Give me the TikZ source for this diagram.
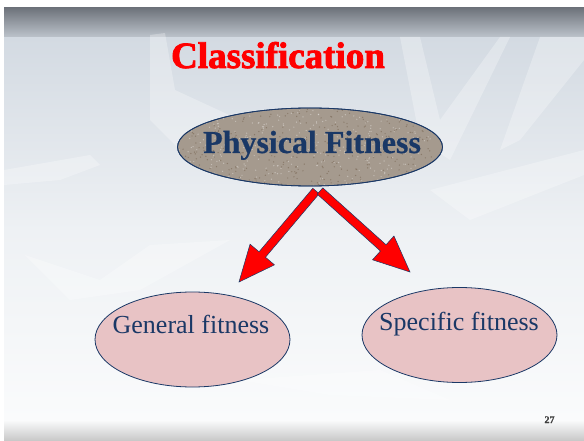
\documentclass[tikz,border=0pt]{standalone}
\usepackage{fontspec}
\setmainfont{Liberation Serif}
\newfontfamily\heavyserif[FakeBold=2.2]{Liberation Serif Bold}
\newfontfamily\boldserif[FakeBold=0.6]{Liberation Serif Bold}
\usetikzlibrary{calc,shapes.geometric}
\definecolor{navy}{HTML}{1A3866}
\definecolor{titlered}{HTML}{FF0000}
\definecolor{granite}{HTML}{A59A8E}
\definecolor{pinkfill}{HTML}{E8C3C5}
\definecolor{bgtop}{HTML}{D3DAE2}
\definecolor{bgmid}{HTML}{EEF1F4}
\definecolor{bgbot}{HTML}{FAFBFC}
\definecolor{bandtop}{HTML}{6E737B}
\definecolor{bandbot}{HTML}{BCC3CB}
\definecolor{arrowred}{HTML}{FF0000}
\tikzset{
  bigoval/.style={ellipse, draw=navy, line width=0.8pt, fill=granite,
    minimum width=265pt, minimum height=78pt, inner sep=0pt},
  smalloval/.style={ellipse, draw=navy, line width=0.8pt, fill=pinkfill,
    minimum width=195pt, minimum height=95pt, inner sep=0pt},
  ovaltext/.style={text=navy, font=\fontsize{26}{30}\selectfont, inner sep=0pt, anchor=base},
  blockarrow/.style={fill=arrowred, draw=navy, line width=0.5pt, line join=miter},
  crystal/.style={fill=white, fill opacity=0.28, draw=none}
}
\begin{document}
\begin{tikzpicture}[x=1pt,y=-1pt]
\useasboundingbox (0,0) rectangle (584,441);
\fill[white] (0,0) rectangle (584,441);
% slide background
\shade[top color=bgtop, bottom color=bgmid] (4,37) rectangle (584,230);
\shade[top color=bgmid, bottom color=bgbot] (4,230) rectangle (584,420);
\shade[top color=bandtop, bottom color=bandbot] (4,8) rectangle (584,37);
\shade[top color=bgbot, bottom color=black!22] (4,420) rectangle (584,441);
% faint crystals
\fill[crystal] (150,35) -- (165,33) -- (175,90) -- (240,120) -- (300,110) -- (200,170) -- (150,120) -- cycle;
\fill[crystal] (4,170) -- (90,155) -- (100,165) -- (60,180) -- (4,185) -- cycle;
\fill[crystal] (400,37) -- (420,37) -- (440,120) -- (500,37) -- (510,37) -- (450,160) -- (420,140) -- cycle;
\fill[crystal] (540,37) -- (584,37) -- (584,60) -- (520,140) -- (500,150) -- cycle;
\fill[crystal] (25,255) -- (100,280) -- (150,245) -- (230,240) -- (140,290) -- (70,300) -- cycle;
\fill[crystal] (430,190) -- (584,150) -- (584,175) -- (470,220) -- cycle;
\fill[crystal] (240,380) -- (380,370) -- (450,400) -- (330,395) -- cycle;
% title
\node[text=titlered, font=\fontsize{37}{44}\selectfont\heavyserif, inner sep=0pt, anchor=base] (title) at (278,68) {Classification};
% ovals
\node[bigoval] (pf) at (310,147) {};
\begin{scope}
  \clip (310,147) ellipse [x radius=132pt, y radius=38.5pt];
  \pgfmathsetseed{7}
  \foreach \i in {1,...,700} {
    \pgfmathsetmacro{\px}{178+265*rnd}
    \pgfmathsetmacro{\py}{108+78*rnd}
    \pgfmathsetmacro{\pc}{rnd>0.5 ? 1 : 0}
    \ifdim\pc pt>0.5pt
      \fill[white, opacity=0.35] (\px,\py) circle (0.7pt);
    \else
      \fill[black!60!brown, opacity=0.3] (\px,\py) circle (0.7pt);
    \fi
  }
\end{scope}
\draw[navy, line width=0.8pt] (310,147) ellipse [x radius=132.5pt, y radius=39pt];
\node[text=navy, font=\fontsize{32}{38}\selectfont\boldserif, inner sep=0pt, anchor=base] (pft) at (312,153) {Physical Fitness};
\node[smalloval] (gf) at (192.5,339.5) {};
\node[ovaltext] (gft) at (191,333) {General fitness};
\node[smalloval] (sf) at (459.5,335) {};
\node[ovaltext] (sft) at (459,330) {Specific fitness};
% arrows
\coordinate (a1) at (316,191);
\coordinate (b1) at (239,282);
\coordinate (a2) at (320,191);
\coordinate (b2) at (410,272);
\foreach \s/\e in {a1/b1, a2/b2} {
  \coordinate (h) at ($(\e)!36pt!(\s)$);
  \draw[blockarrow] ($(\s)!4.2pt!90:(\e)$) -- ($(h)!4.2pt!90:(\e)$) -- ($(h)!16pt!90:(\e)$)
     -- (\e) -- ($(h)!16pt!-90:(\e)$) -- ($(h)!4.2pt!-90:(\e)$) -- ($(\s)!4.2pt!-90:(\e)$) -- cycle;
}
% page number
\node[text=black!75, font=\fontsize{10}{12}\selectfont\boldserif, inner sep=0pt, anchor=base] (pg) at (549.5,423) {27};
\end{tikzpicture}
\end{document}
